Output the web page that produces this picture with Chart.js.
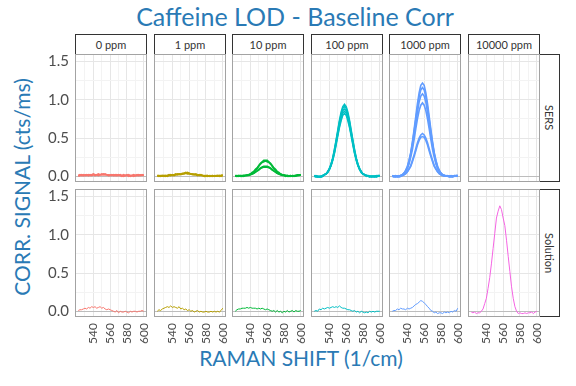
<!DOCTYPE html>
<html>
<head>
<meta charset="utf-8">
<script src="https://cdn.jsdelivr.net/npm/chart.js@4"></script>
<style>
    body { margin: 0; background: #fff; font-family: Lato, sans-serif; }
    #wrap { position: relative; width: 576px; height: 386px; overflow: hidden; }
    .box { position: absolute; }
    .strip { position: absolute; box-sizing: border-box; border: 1px solid #333; background: #fff; color: #333;
             font-size: 11px; display: flex; align-items: center; justify-content: center; }
    .side { writing-mode: vertical-rl; }
    .title { position: absolute; color: #2a7ab5; white-space: nowrap; text-align: center; }
</style>
</head>
<body>
<div id="wrap">
    <div class="title" style="left:0;top:1px;width:590px;font-size:25px;line-height:30px">Caffeine LOD - Baseline Corr</div>
    <div class="title" style="left:-128px;top:174px;width:300px;height:26px;font-size:21px;line-height:26px;transform:rotate(-90deg)">CORR. SIGNAL (cts/ms)</div>
    <div class="title" style="left:151px;top:345px;width:300px;font-size:21px;line-height:26px">RAMAN SHIFT (1/cm)</div>
</div>
<script>

const ramanShift = [522, 524, 526, 528, 530, 532, 534, 536, 538, 540, 542, 544, 546, 548, 550, 552, 554, 556, 558, 560,
    562, 564, 566, 568, 570, 572, 574, 576, 578, 580, 582, 584, 586, 588, 590, 592, 594, 596, 598, 600]

const concentrations = ['0 ppm', '1 ppm', '10 ppm', '100 ppm', '1000 ppm', '10000 ppm']
const methods = ['SERS', 'Solution']
const seriesColors = ['#F8766D', '#B79F00', '#00BA38', '#00BFC4', '#619CFF', '#F564E3']

const xMajorTicks = [540, 560, 580, 600]
const xMinorTicks = [530, 550, 570, 590]
const yMajorTicks = [0, 0.5, 1, 1.5]
const yMinorTicks = [0.25, 0.75, 1.25]


// SERS replicates, one list per concentration
const sers0ppm = [
    [0.01, 0.01, 0.02, 0.01, 0.02, 0.02, 0.01, 0.02, 0.02, 0.03, 0.02, 0.02, 0.03, 0.02, 0.02, 0.03, 0.02, 0.02, 0.01, 0.02,
     0.02, 0.01, 0.02, 0.01, 0.02, 0.01, 0.01, 0.02, 0.01, 0.01, 0.02, 0.01, 0.01, 0.02, 0.01, 0.02, 0.01, 0.02, 0.02, 0.01],
    [0.00, 0.01, 0.01, 0.02, 0.01, 0.01, 0.02, 0.01, 0.02, 0.02, 0.01, 0.02, 0.02, 0.02, 0.03, 0.02, 0.02, 0.02, 0.02, 0.01,
     0.01, 0.02, 0.01, 0.01, 0.01, 0.02, 0.01, 0.00, 0.01, 0.01, 0.01, 0.00, 0.01, 0.01, 0.01, 0.01, 0.02, 0.01, 0.01, 0.02],
    [0.01, 0.02, 0.01, 0.01, 0.01, 0.02, 0.01, 0.02, 0.01, 0.02, 0.02, 0.02, 0.01, 0.02, 0.02, 0.02, 0.03, 0.02, 0.01, 0.01,
     0.02, 0.01, 0.01, 0.02, 0.01, 0.01, 0.00, 0.01, 0.01, 0.02, 0.00, 0.01, 0.01, 0.00, 0.01, 0.01, 0.01, 0.01, 0.02, 0.01]
]

const sers1ppm = [
    [0.01, 0.00, 0.01, 0.01, 0.00, 0.01, 0.01, 0.02, 0.01, 0.02, 0.02, 0.03, 0.02, 0.03, 0.03, 0.04, 0.04, 0.05, 0.04, 0.04,
     0.03, 0.03, 0.03, 0.02, 0.02, 0.02, 0.01, 0.01, 0.00, 0.01, 0.00, 0.01, 0.00, 0.01, 0.00, 0.01, 0.01, 0.00, 0.01, 0.01],
    [0.00, 0.01, 0.00, 0.01, 0.01, 0.00, 0.01, 0.01, 0.02, 0.01, 0.02, 0.02, 0.03, 0.02, 0.03, 0.03, 0.04, 0.04, 0.05, 0.04,
     0.03, 0.03, 0.02, 0.03, 0.02, 0.01, 0.02, 0.01, 0.01, 0.00, 0.01, 0.00, 0.01, 0.00, 0.01, 0.00, 0.00, 0.01, 0.01, 0.02],
    [0.01, 0.01, 0.00, 0.00, 0.01, 0.01, 0.00, 0.01, 0.01, 0.02, 0.01, 0.02, 0.02, 0.03, 0.02, 0.03, 0.03, 0.04, 0.03, 0.03,
     0.03, 0.02, 0.02, 0.02, 0.01, 0.02, 0.01, 0.01, 0.00, 0.01, 0.01, 0.00, 0.00, 0.01, 0.00, 0.00, 0.01, 0.01, 0.00, 0.01]
]

const sers10ppm = [
    [0.01, 0.00, 0.01, 0.00, 0.01, 0.01, 0.01, 0.02, 0.02, 0.03, 0.05, 0.06, 0.09, 0.11, 0.14, 0.17, 0.19, 0.21, 0.21, 0.21,
     0.19, 0.17, 0.14, 0.11, 0.09, 0.06, 0.05, 0.03, 0.02, 0.02, 0.01, 0.01, 0.00, 0.01, 0.00, 0.01, 0.01, 0.02, 0.02, 0.02],
    [0.00, 0.01, 0.00, 0.01, 0.00, 0.01, 0.01, 0.01, 0.02, 0.03, 0.04, 0.06, 0.08, 0.10, 0.13, 0.16, 0.18, 0.19, 0.20, 0.19,
     0.18, 0.16, 0.13, 0.10, 0.08, 0.06, 0.04, 0.03, 0.02, 0.01, 0.01, 0.00, 0.01, 0.00, 0.01, 0.00, 0.01, 0.01, 0.02, 0.02],
    [0.01, 0.00, 0.01, 0.01, 0.00, 0.01, 0.01, 0.01, 0.02, 0.02, 0.03, 0.04, 0.06, 0.07, 0.09, 0.11, 0.12, 0.13, 0.13, 0.13,
     0.12, 0.11, 0.09, 0.07, 0.06, 0.04, 0.03, 0.02, 0.02, 0.01, 0.01, 0.01, 0.00, 0.01, 0.00, 0.00, 0.01, 0.01, 0.01, 0.02],
    [0.00, 0.01, 0.00, 0.00, 0.01, 0.00, 0.01, 0.01, 0.01, 0.02, 0.03, 0.04, 0.05, 0.07, 0.08, 0.10, 0.11, 0.12, 0.12, 0.12,
     0.11, 0.10, 0.08, 0.07, 0.05, 0.04, 0.03, 0.02, 0.01, 0.01, 0.00, 0.01, 0.00, 0.00, 0.01, 0.00, 0.00, 0.01, 0.01, 0.02]
]

const sers100ppm = [
    [0.00, 0.00, -0.01, 0.00, 0.00, 0.01, 0.02, 0.03, 0.06, 0.10, 0.16, 0.24, 0.35, 0.47, 0.60, 0.73, 0.84, 0.91, 0.94, 0.91,
     0.84, 0.73, 0.60, 0.47, 0.35, 0.24, 0.16, 0.10, 0.06, 0.03, 0.02, 0.01, 0.00, 0.00, 0.00, -0.01, 0.00, 0.00, 0.01, 0.01],
    [0.00, -0.01, 0.00, -0.01, 0.00, 0.00, 0.02, 0.03, 0.06, 0.10, 0.15, 0.23, 0.34, 0.46, 0.58, 0.71, 0.81, 0.89, 0.91, 0.89,
     0.81, 0.71, 0.58, 0.46, 0.34, 0.23, 0.15, 0.10, 0.06, 0.03, 0.02, 0.01, 0.00, -0.01, 0.00, 0.00, 0.00, -0.01, 0.00, 0.01],
    [0.01, 0.00, -0.01, -0.01, 0.00, 0.01, 0.02, 0.03, 0.06, 0.09, 0.15, 0.23, 0.32, 0.44, 0.56, 0.69, 0.79, 0.86, 0.88, 0.86,
     0.79, 0.69, 0.56, 0.44, 0.32, 0.23, 0.15, 0.09, 0.06, 0.03, 0.02, 0.00, 0.01, 0.00, -0.01, 0.00, 0.00, 0.00, 0.01, 0.00],
    [0.00, 0.00, 0.00, -0.01, -0.01, 0.00, 0.02, 0.03, 0.05, 0.09, 0.14, 0.22, 0.31, 0.43, 0.55, 0.66, 0.76, 0.83, 0.85, 0.83,
     0.76, 0.66, 0.55, 0.43, 0.31, 0.22, 0.14, 0.09, 0.05, 0.03, 0.02, 0.01, 0.00, 0.00, 0.00, 0.00, -0.01, 0.00, 0.00, 0.01],
    [0.00, 0.01, 0.00, 0.00, -0.01, 0.00, 0.02, 0.03, 0.05, 0.09, 0.14, 0.21, 0.30, 0.41, 0.53, 0.64, 0.73, 0.80, 0.82, 0.80,
     0.73, 0.64, 0.53, 0.41, 0.30, 0.21, 0.14, 0.09, 0.05, 0.03, 0.02, 0.01, 0.01, 0.00, 0.00, 0.00, 0.00, 0.01, 0.00, 0.00]
]

const sers1000ppm = [
    [0.00, 0.00, -0.01, 0.00, 0.00, 0.01, 0.02, 0.04, 0.08, 0.13, 0.21, 0.31, 0.45, 0.61, 0.78, 0.95, 1.09, 1.19, 1.22, 1.19,
     1.09, 0.95, 0.78, 0.61, 0.45, 0.31, 0.21, 0.13, 0.08, 0.04, 0.02, 0.01, 0.00, 0.00, -0.01, 0.00, 0.00, 0.00, 0.01, 0.01],
    [0.00, -0.01, 0.00, 0.00, 0.00, 0.01, 0.02, 0.04, 0.07, 0.12, 0.20, 0.30, 0.43, 0.58, 0.74, 0.90, 1.04, 1.13, 1.16, 1.13,
     1.04, 0.90, 0.74, 0.58, 0.43, 0.30, 0.20, 0.12, 0.07, 0.04, 0.02, 0.01, 0.00, 0.00, 0.00, -0.01, 0.00, 0.00, 0.00, 0.01],
    [0.00, 0.00, 0.00, -0.01, 0.00, 0.01, 0.02, 0.04, 0.07, 0.11, 0.18, 0.28, 0.40, 0.54, 0.69, 0.84, 0.97, 1.05, 1.08, 1.05,
     0.97, 0.84, 0.69, 0.54, 0.40, 0.28, 0.18, 0.11, 0.07, 0.04, 0.02, 0.01, 0.01, 0.00, 0.00, 0.00, -0.01, 0.00, 0.01, 0.00],
    [0.01, 0.00, 0.00, 0.00, -0.01, 0.00, 0.02, 0.03, 0.06, 0.10, 0.16, 0.25, 0.35, 0.48, 0.62, 0.75, 0.86, 0.93, 0.96, 0.93,
     0.86, 0.75, 0.62, 0.48, 0.35, 0.25, 0.16, 0.10, 0.06, 0.03, 0.02, 0.01, 0.00, 0.00, 0.00, 0.00, 0.00, 0.01, 0.00, 0.01],
    [0.00, 0.00, 0.01, 0.00, 0.00, 0.00, 0.01, 0.02, 0.04, 0.06, 0.10, 0.14, 0.21, 0.28, 0.36, 0.44, 0.50, 0.54, 0.56, 0.54,
     0.50, 0.44, 0.36, 0.28, 0.21, 0.14, 0.10, 0.06, 0.04, 0.02, 0.01, 0.01, 0.00, 0.00, 0.00, 0.01, 0.00, 0.00, 0.01, 0.01],
    [0.00, 0.00, 0.00, 0.00, 0.01, 0.00, 0.01, 0.02, 0.03, 0.06, 0.09, 0.13, 0.19, 0.26, 0.33, 0.41, 0.47, 0.51, 0.52, 0.51,
     0.47, 0.41, 0.33, 0.26, 0.19, 0.13, 0.09, 0.06, 0.03, 0.02, 0.01, 0.00, 0.00, 0.01, 0.00, 0.00, 0.00, 0.01, 0.00, 0.00]
]

const sers10000ppm = []


// Solution, one spectrum per concentration
const solution0ppm = [0.01, 0.02, 0.02, 0.03, 0.04, 0.03, 0.05, 0.04, 0.06, 0.05, 0.06, 0.04, 0.05, 0.06, 0.04, 0.05, 0.03, 0.02, 0.03, 0.02,
    0.01, 0.00, -0.01, 0.01, -0.02, 0.00, -0.01, -0.01, 0.00, -0.01, -0.02, 0.00, -0.01, 0.00, 0.00, -0.01, 0.00, 0.00, 0.01, 0.00]
const solution1ppm = [0.00, 0.02, 0.01, 0.03, 0.04, 0.05, 0.06, 0.05, 0.07, 0.05, 0.06, 0.05, 0.04, 0.06, 0.03, 0.04, 0.02, 0.03, 0.01, 0.02,
    0.00, 0.01, -0.01, 0.00, 0.01, -0.01, 0.00, -0.01, -0.01, 0.00, -0.01, -0.01, 0.00, -0.01, 0.00, -0.01, 0.00, -0.01, 0.01, 0.04]
const solution10ppm = [0.00, 0.02, 0.03, 0.03, 0.04, 0.04, 0.04, 0.05, 0.04, 0.05, 0.04, 0.04, 0.04, 0.03, 0.04, 0.03, 0.04, 0.03, 0.02, 0.03,
    0.02, 0.01, 0.00, 0.01, -0.01, 0.01, -0.01, 0.00, -0.02, 0.00, -0.01, 0.01, -0.01, 0.00, 0.01, -0.01, 0.01, 0.00, 0.00, 0.01]
const solution100ppm = [0.00, 0.01, 0.00, 0.03, 0.02, 0.04, 0.03, 0.04, 0.05, 0.04, 0.05, 0.06, 0.05, 0.06, 0.05, 0.07, 0.05, 0.04, 0.04, 0.03,
    0.02, 0.02, 0.01, 0.00, 0.01, -0.01, 0.00, -0.02, 0.00, -0.01, -0.02, -0.01, -0.02, 0.00, -0.01, 0.00, -0.01, 0.00, 0.00, 0.00]
const solution1000ppm = [0.00, 0.01, 0.01, 0.03, 0.02, 0.04, 0.03, 0.03, 0.02, 0.04, 0.03, 0.04, 0.05, 0.07, 0.09, 0.10, 0.12, 0.14, 0.13, 0.11,
    0.09, 0.06, 0.04, 0.01, 0.00, -0.02, -0.01, -0.03, -0.02, -0.02, -0.03, -0.01, -0.02, -0.01, -0.02, 0.00, -0.01, 0.01, 0.00, 0.04]
const solution10000ppm = [-0.01, -0.02, -0.01, -0.03, -0.02, -0.02, 0.00, 0.03, 0.10, 0.17, 0.30, 0.44, 0.62, 0.82, 1.02, 1.22, 1.31, 1.38, 1.33, 1.22,
    1.12, 0.93, 0.72, 0.52, 0.32, 0.17, 0.06, 0.00, -0.03, -0.02, -0.03, -0.03, -0.02, -0.03, -0.02, -0.02, -0.01, -0.03, -0.01, 0.00]

const sersSignal = [sers0ppm, sers1ppm, sers10ppm, sers100ppm, sers1000ppm, sers10000ppm]
const solutionSignal = [[solution0ppm], [solution1ppm], [solution10ppm], [solution100ppm], [solution1000ppm], [solution10000ppm]]


// Layout of the facet grid
const panelLeft = [75, 154, 232, 311, 389, 468]
const panelTop = [54, 189]
const PANEL_W = 72
const PANEL_H = 128
const PAD_TOP = 8
const PAD_RIGHT = 8

const xGrid = [...xMinorTicks, ...xMajorTicks].sort((a, b) => a - b)
const yGrid = [...yMajorTicks, ...yMinorTicks].sort((a, b) => a - b)

const wrap = document.getElementById('wrap')

// panel border on top of the lines
const panelFrame = {
    id: 'panelFrame',
    afterDatasetsDraw(chart) {
        const { ctx, chartArea: a } = chart
        ctx.save()
        ctx.strokeStyle = '#a3a3a3'
        ctx.lineWidth = 1
        ctx.strokeRect(Math.round(a.left) + .5, Math.round(a.top) + .5, Math.round(a.width) - 1, Math.round(a.height) - 1)
        ctx.restore()
    }
}

const noPadding = s => {
    s.paddingLeft = 0
    s.paddingRight = 0
    s.paddingTop = 0
    s.paddingBottom = 0
}

const drawPanel = (row, col) => {

    const yAxisW = col === 0 ? 44 : 0
    const xAxisH = row === 1 ? 40 : 0

    const box = document.createElement('div')
    box.className = 'box'
    box.style.left = (panelLeft[col] - yAxisW) + 'px'
    box.style.top = (panelTop[row] - PAD_TOP) + 'px'
    const canvas = document.createElement('canvas')
    canvas.width = PANEL_W + yAxisW + PAD_RIGHT
    canvas.height = PANEL_H + xAxisH + PAD_TOP
    box.appendChild(canvas)
    wrap.appendChild(box)

    const lines = (row === 0 ? sersSignal : solutionSignal)[col]

    const data = {
        datasets: lines.map(vals => ({
            data: vals.map((y, i) => ({ x: ramanShift[i], y })),
            borderColor: seriesColors[col],
            borderWidth: row === 0 ? 1.6 : 1,
            pointRadius: 0,
            tension: 0
        }))
    }

    const options = {
        responsive: false,
        animation: false,
        layout: { padding: { top: PAD_TOP, right: PAD_RIGHT, left: 0, bottom: 0 } },
        plugins: {
            legend: { display: false },
            tooltip: { enabled: false }
        },
        scales: {
            x: {
                type: 'linear',
                min: 518.1,
                max: 603.9,
                border: { display: false },
                afterBuildTicks: s => { s.ticks = xGrid.map(v => ({ value: v })) },
                afterFit: s => { s.height = xAxisH; noPadding(s) },
                grid: {
                    drawTicks: false,
                    color: c => xMajorTicks.includes(c.tick.value) ? '#e6e6e6' : '#f3f3f3'
                },
                ticks: {
                    display: row === 1,
                    autoSkip: false,
                    minRotation: 90,
                    maxRotation: 90,
                    padding: 6,
                    color: '#4d4d4d',
                    font: { family: 'Lato', size: 12 },
                    callback: v => xMajorTicks.includes(v) ? String(v) : ''
                }
            },
            y: {
                min: -0.075,
                max: 1.6,
                border: { display: false },
                afterBuildTicks: s => { s.ticks = yGrid.map(v => ({ value: v })) },
                afterFit: s => { s.width = yAxisW; noPadding(s) },
                grid: {
                    drawTicks: false,
                    color: c => c.tick.value === 0 ? '#bdbdbd' : (yMajorTicks.includes(c.tick.value) ? '#e6e6e6' : '#f3f3f3')
                },
                ticks: {
                    display: col === 0,
                    autoSkip: false,
                    padding: 6,
                    color: '#4d4d4d',
                    font: { family: 'Lato', size: 15 },
                    callback: v => yMajorTicks.includes(v) ? v.toFixed(1) : ''
                }
            }
        }
    }

    new Chart(canvas, { type: 'line', data, options, plugins: [panelFrame] })
}


// strips
const addStrip = (text, left, top, width, height, side) => {
    const el = document.createElement('div')
    el.className = 'strip' + (side ? ' side' : '')
    el.style.left = left + 'px'
    el.style.top = top + 'px'
    el.style.width = width + 'px'
    el.style.height = height + 'px'
    el.textContent = text
    wrap.appendChild(el)
}

concentrations.forEach((c, i) => addStrip(c, panelLeft[i], 34, PANEL_W, 21, false))
methods.forEach((m, i) => addStrip(m, 539, panelTop[i], 21, PANEL_H, true))

methods.forEach((m, row) => concentrations.forEach((c, col) => drawPanel(row, col)))

</script>
</body>
</html>
